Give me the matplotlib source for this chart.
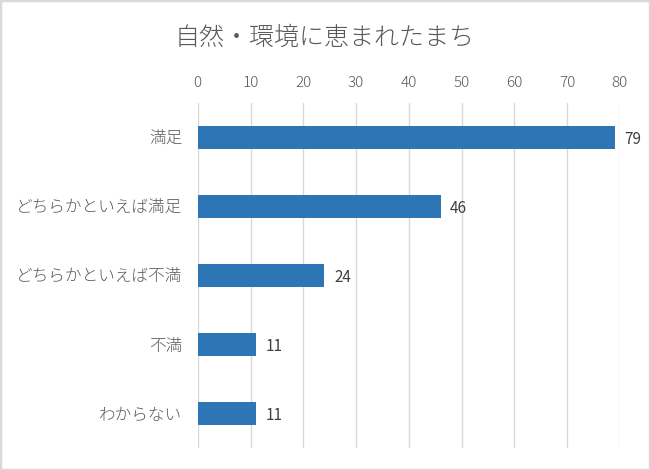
import matplotlib
matplotlib.use("Agg")
import matplotlib.pyplot as plt
from matplotlib.patches import Rectangle

plt.rcParams["font.family"] = ["Noto Sans CJK JP", "DejaVu Sans"]

TITLE = "自然・環境に恵まれたまち"
categories = ["満足", "どちらかといえば満足", "どちらかといえば不満", "不満", "わからない"]
values = [79, 46, 24, 11, 11]
xticks = [0, 10, 20, 30, 40, 50, 60, 70, 80]

BAR_COLOR = "#2E75B6"
GRID_COLOR = "#D9D9D9"
TEXT_COLOR = "#595959"

fig = plt.figure(figsize=(6.5, 4.7), dpi=100)
ax = fig.add_axes([0.3042, 0.0468, 0.6496, 0.7341])

y = list(range(len(categories)))
ax.barh(y, values, height=0.34, color=BAR_COLOR, zorder=3)
ax.set_ylim(len(categories) - 0.5, -0.5)
ax.set_xlim(0, 80)

ax.set_yticks(y)
ax.set_yticklabels(categories, fontsize=12, color=TEXT_COLOR, fontweight="light")
ax.set_xticks(xticks)
ax.set_xticklabels([str(t) for t in xticks], fontsize=11, color=TEXT_COLOR, fontweight="light")
ax.xaxis.tick_top()
ax.tick_params(axis="both", length=0)
ax.tick_params(axis="x", pad=9)
ax.tick_params(axis="y", pad=11)

ax.grid(axis="x", color=GRID_COLOR, linewidth=1, zorder=0)
for side in ax.spines.values():
    side.set_visible(False)

for yi, v in zip(y, values):
    ax.annotate(str(v), (v, yi), xytext=(7, -1.5), textcoords="offset points",
                va="center", ha="left", fontsize=11, color="#404040")

fig.text(0.5, 0.919, TITLE, ha="center", va="center", fontsize=18, color=TEXT_COLOR,
         fontweight="light")

fig.patches.append(Rectangle((0, 0), 1, 1, transform=fig.transFigure, fill=False,
                             edgecolor="#D9D9D9", linewidth=2.5, zorder=10))

fig.savefig("out.png", dpi=100)
